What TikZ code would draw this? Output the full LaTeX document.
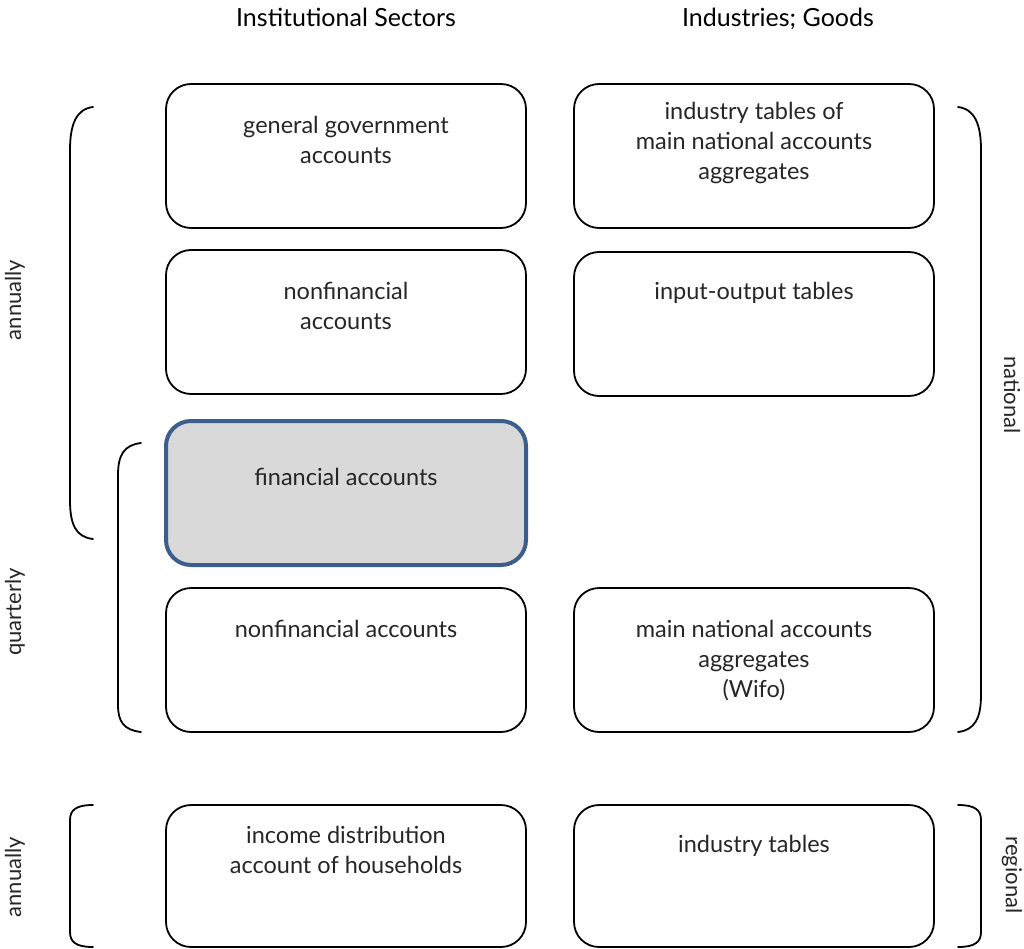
\documentclass[tikz,border=0pt]{standalone}
\usepackage{fontspec}
\setmainfont{Lato}
\begin{document}
\begin{tikzpicture}[x=1pt,y=-1pt,
  acct/.style={draw=black,line width=1.8pt,rounded corners=25pt,minimum width=360pt,minimum height=144pt,inner sep=0pt,outer sep=0pt,anchor=north west},
  fin/.style={acct,draw={rgb,255:red,59;green,94;blue,140},line width=4pt,fill={rgb,255:red,217;green,217;blue,217}},
  txt/.style={font=\fontsize{23.5}{30}\selectfont,align=center,anchor=center,text=black!85},
  head/.style={font=\fontsize{25}{30}\selectfont,anchor=base},
  brk/.style={line width=1.8pt,line cap=round},
  side/.style={font=\fontsize{22}{25}\selectfont,anchor=center,text=black!85}]
\useasboundingbox (0,0) rectangle (1024,949);

\node[head] (h1) at (346,27) {Institutional Sectors};
\node[head] (h2) at (778,27) {Industries; Goods};

\node[acct] (b11) at (166,84) {};
\node[acct] (b12) at (574,84) {};
\node[acct] (b21) at (166,250) {};
\node[acct] (b22) at (574,252) {};
\node[fin]  (b31) at (166,421) {};
\node[acct] (b41) at (166,588) {};
\node[acct] (b42) at (574,588) {};
\node[acct,minimum height=142pt] (b51) at (166,805) {};
\node[acct,minimum height=142pt] (b52) at (574,805) {};

\node[txt] (t11) at (346,140) {general government\\accounts};
\node[txt] (t12) at (754,143) {industry tables of\\main national accounts\\aggregates};
\node[txt] (t21) at (346,306) {nonfinancial\\accounts};
\node[txt] (t22) at (754,293) {input-output tables};
\node[txt] (t31) at (346,477) {financial accounts};
\node[txt] (t41) at (346,629) {nonfinancial accounts};
\node[txt] (t42) at (754,661) {main national accounts\\aggregates\\(Wifo)};
\node[txt] (t51) at (346,850) {income distribution\\account of households};
\node[txt] (t52) at (754,846) {industry tables};

% brackets
\draw[brk] (93,107) .. controls (76,109) and (70,125) .. (70,150) -- (70,500) .. controls (70,525) and (76,537) .. (93,539);
\draw[brk] (141,443) .. controls (124,445) and (118,455) .. (118,475) -- (118,705) .. controls (118,722) and (124,730) .. (141,732);
\draw[brk] (958,107) .. controls (975,109) and (981,125) .. (981,150) -- (981,695) .. controls (981,718) and (975,730) .. (958,732);
\draw[brk] (93,805) .. controls (76,805) and (70,810) .. (70,820) -- (70,932) .. controls (70,942) and (76,947) .. (93,947);
\draw[brk] (958,805) .. controls (975,805) and (981,810) .. (981,820) -- (981,932) .. controls (981,942) and (975,947) .. (958,947);

\node[side,rotate=90] (s1) at (15,300) {annually};
\node[side,rotate=90] (s2) at (15,612) {quarterly};
\node[side,rotate=90] (s3) at (15,877) {annually};
\node[side,rotate=-90] (s4) at (1012,395) {national};
\node[side,rotate=-90] (s5) at (1012,875) {regional};
\end{tikzpicture}
\end{document}
